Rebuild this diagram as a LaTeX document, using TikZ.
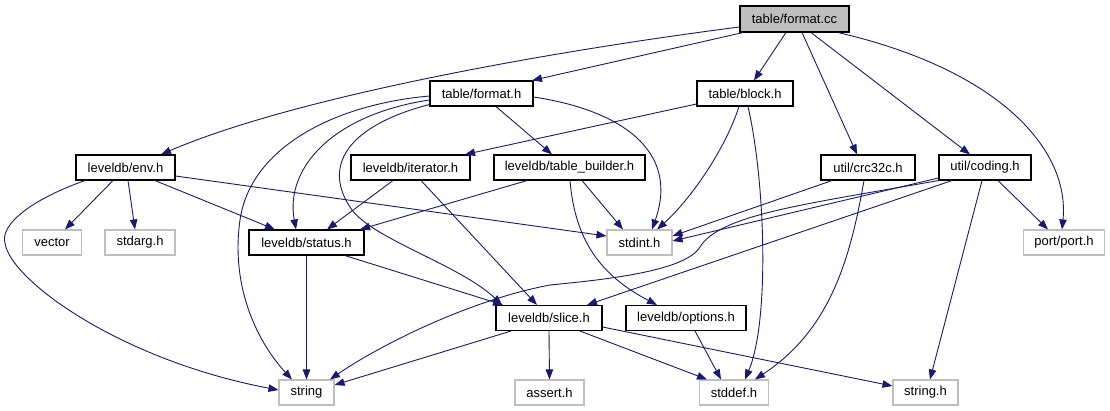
\documentclass[tikz,border=0pt]{standalone}
\usepackage{fontspec}
\setmainfont{Liberation Sans}
\usetikzlibrary{arrows.meta}
\definecolor{edgeblue}{HTML}{191970}
\definecolor{sysgray}{HTML}{BFBFBF}
\begin{document}
\begin{tikzpicture}[x=1pt,y=-1pt,
  filebox/.style={draw=black,line width=1.1pt,fill=white,inner sep=0pt,minimum height=25pt,font=\fontsize{13}{15}\selectfont},
  sysbox/.style={draw=sysgray,line width=1.1pt,fill=white,inner sep=0pt,minimum height=25pt,font=\fontsize{13}{15}\selectfont},
  dep/.style={draw=edgeblue,line width=0.9pt,-{Triangle[length=10pt,width=7.5pt]}}]
\useasboundingbox[fill=white] (0,0) rectangle (1110,411);
% nodes
\node[filebox,fill=sysgray,minimum width=109pt,minimum height=26pt] (fcc) at (794.5,19) {table/format.cc};
\node[filebox,minimum width=103pt] (fh) at (481.5,93.5) {table/format.h};
\node[filebox,minimum width=96pt] (bh) at (745,93.5) {table/block.h};
\node[filebox,minimum width=99pt] (env) at (125.5,167.5) {leveldb/env.h};
\node[filebox,minimum width=119pt] (iter) at (410.5,167.5) {leveldb/iterator.h};
\node[filebox,minimum width=151pt] (tb) at (569.5,167.5) {leveldb/table\_builder.h};
\node[filebox,minimum width=94pt] (crc) at (868,167.5) {util/crc32c.h};
\node[filebox,minimum width=92pt] (cod) at (985,167.5) {util/coding.h};
\node[sysbox,minimum width=59pt] (vec) at (52,242.5) {vector};
\node[sysbox,minimum width=70pt] (sarg) at (140,242.5) {stdarg.h};
\node[filebox,minimum width=115pt] (stat) at (306.5,242.5) {leveldb/status.h};
\node[sysbox,minimum width=65pt] (sint) at (639.5,242.5) {stdint.h};
\node[sysbox,minimum width=81pt] (port) at (1064,242.5) {port/port.h};
\node[filebox,minimum width=106pt] (slice) at (549,318) {leveldb/slice.h};
\node[filebox,minimum width=120pt] (opt) at (686,318) {leveldb/options.h};
\node[sysbox,minimum width=55pt] (str) at (306.5,392.5) {string};
\node[sysbox,minimum width=69pt] (ast) at (549.5,392.5) {assert.h};
\node[sysbox,minimum width=69pt] (sdef) at (734,392.5) {stddef.h};
\node[sysbox,minimum width=65pt] (strh) at (925.5,392.5) {string.h};
% edges from table/format.cc
\draw[dep] ([yshift=-8pt]fcc.west) .. controls (560,50) and (300,95) .. ([xshift=35.5pt]env.north);
\draw[dep] ([xshift=-51.5pt]fcc.south) -- ([xshift=50.5pt]fh.north);
\draw[dep] ([xshift=-8.5pt]fcc.south) -- ([xshift=9pt]bh.north);
\draw[dep] ([xshift=7.5pt]fcc.south) -- ([xshift=-11pt]crc.north);
\draw[dep] ([xshift=16.5pt]fcc.south) -- ([xshift=-15pt]cod.north);
\draw[dep] ([xshift=43.5pt]fcc.south) .. controls (1000,70) and (1070,150) .. ([xshift=-2pt]port.north);
% table/format.h
\draw[dep] ([yshift=-2.5pt]fh.west) .. controls (330,105) and (250,150) .. (240,220) .. controls (230,290) and (260,345) .. ([xshift=-14.5pt]str.north);
\draw[dep] ([yshift=-6.5pt]fh.west) .. controls (330,115) and (285,170) .. ([xshift=-10.5pt]stat.north);
\draw[dep] ([yshift=-11pt]fh.west) .. controls (350,125) and (320,165) .. (352,210) .. controls (375,240) and (460,265) .. ([xshift=-47pt]slice.north);
\draw[dep] ([xshift=14.5pt]fh.south) -- ([xshift=-17.5pt]tb.north);
\draw[dep] ([yshift=-3.5pt]fh.east) .. controls (620,110) and (680,150) .. ([xshift=12.5pt]sint.north);
% table/block.h
\draw[dep] ([yshift=-10.5pt]bh.west) -- ([xshift=54.5pt]iter.north);
\draw[dep] ([xshift=-6pt]bh.south) .. controls (725,150) and (690,200) .. ([xshift=17.5pt]sint.north);
\draw[dep] ([xshift=3pt]bh.south) .. controls (765,180) and (770,320) .. ([xshift=11pt]sdef.north);
% leveldb/env.h
\draw[dep] ([xshift=-40.5pt]env.south) .. controls (30,200) and (0,225) .. (5,243) .. controls (10,280) and (120,360) .. ([yshift=2.5pt]str.west);
\draw[dep] ([xshift=-12.5pt]env.south) -- ([xshift=13pt]vec.north);
\draw[dep] ([xshift=2.5pt]env.south) -- ([xshift=-5pt]sarg.north);
\draw[dep] ([xshift=29.5pt]env.south) -- ([xshift=-31.5pt]stat.north);
\draw[dep] ([yshift=-8.5pt]env.east) -- ([yshift=6.5pt]sint.west);
% leveldb/iterator.h
\draw[dep] ([xshift=-17.5pt]iter.south) -- ([xshift=20.5pt]stat.north);
\draw[dep] ([xshift=10.5pt]iter.south) -- ([xshift=-12pt]slice.north);
% leveldb/table_builder.h
\draw[dep] ([xshift=-42.5pt]tb.south) -- ([xshift=53.5pt]stat.north);
\draw[dep] ([xshift=12.5pt]tb.south) -- ([xshift=-16.5pt]sint.north);
\draw[dep] ([xshift=0.5pt]tb.south) .. controls (575,240) and (600,275) .. ([xshift=-29pt]opt.north);
% util/crc32c.h
\draw[dep] ([xshift=-36pt]crc.south) -- ([yshift=6.5pt]sint.east);
\draw[dep] ([xshift=-4pt]crc.south) .. controls (850,260) and (830,330) .. ([xshift=21pt]sdef.north);
% util/coding.h
\draw[dep] ([yshift=-10.5pt]cod.west) -- ([yshift=1.5pt]sint.east);
\draw[dep] (cod.south west) .. controls (800,205) and (720,215) .. (700,247) .. controls (685,272) and (600,280) .. (550,285) .. controls (470,300) and (380,345) .. ([xshift=23.5pt]str.north);
\draw[dep] ([xshift=-33pt]cod.south) -- ([xshift=38pt]slice.north);
\draw[dep] ([xshift=-3pt]cod.south) -- ([xshift=4.5pt]strh.north);
\draw[dep] ([xshift=13pt]cod.south) -- ([xshift=-16pt]port.north);
% leveldb/status.h
\draw[dep] (stat.south) -- (str.north);
\draw[dep] ([xshift=38.5pt]stat.south) -- ([xshift=-46pt]slice.north);
% leveldb/slice.h
\draw[dep] ([xshift=-38pt]slice.south) -- ([yshift=7.5pt]str.east);
\draw[dep] (slice.south) -- (ast.north);
\draw[dep] ([xshift=31pt]slice.south) -- ([xshift=-27pt]sdef.north);
\draw[dep] ([yshift=-9pt]slice.east) -- ([yshift=6.5pt]strh.west);
% leveldb/options.h
\draw[dep] ([xshift=9pt]opt.south) -- ([xshift=-13pt]sdef.north);
\end{tikzpicture}
\end{document}
